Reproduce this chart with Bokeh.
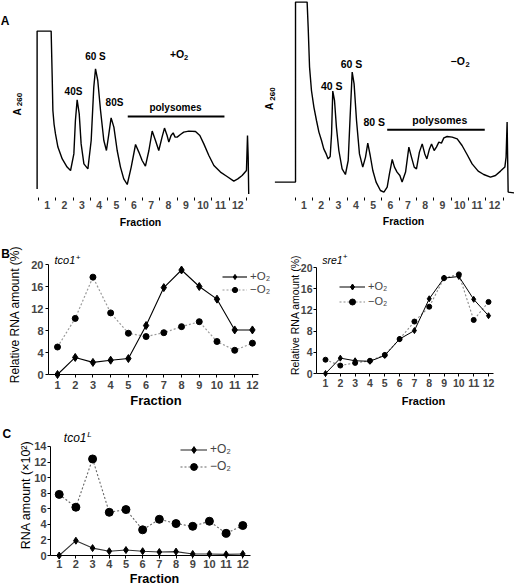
import math
from bokeh.plotting import figure
from bokeh.models import Label, Legend, LegendItem, FixedTicker
from bokeh.layouts import column, row
from bokeh.embed import file_html
from bokeh.resources import INLINE

# ---------------- data ----------------
fractions = list(range(1, 13))
fraction_bounds = [f - 0.5 for f in fractions] + [12.5]

# A: polysome profiles (fraction position, A260 arbitrary units)
profile_pos_plus = [0.42, 0.42, 1.23, 1.29, 1.33, 1.40, 1.48, 1.62, 1.87, 2.15,
                    2.35, 2.54, 2.63, 2.73, 2.85, 2.96, 3.12, 3.35, 3.54, 3.69,
                    3.79, 3.92, 4.08, 4.27, 4.42, 4.56, 4.69, 4.85, 5.04, 5.23,
                    5.42, 5.62, 5.85, 6.10, 6.29, 6.48, 6.67, 6.87, 7.06, 7.25,
                    7.44, 7.63, 7.77, 7.92, 8.02, 8.15, 8.27, 8.38, 8.50, 8.69,
                    8.88, 9.17, 9.56, 9.81, 10.04, 10.33, 10.62, 11.00, 11.38, 11.77,
                    12.00, 12.25, 12.50, 12.56, 12.60, 12.63]
profile_a260_plus = [5.8, 84.7, 84.7, 62.0, 45.0, 38.0, 33.3, 26.7, 20.8, 16.7,
                     15.0, 23.3, 40.0, 50.3, 43.3, 28.3, 18.3, 15.8, 30.0, 56.7,
                     65.8, 60.0, 45.0, 30.0, 25.0, 33.3, 41.3, 36.7, 25.0, 16.7,
                     10.8, 8.0, 16.7, 28.0, 24.2, 20.0, 17.2, 25.0, 34.7, 30.0,
                     25.0, 31.7, 36.2, 32.5, 29.2, 32.5, 33.8, 31.7, 31.7, 33.0,
                     34.2, 34.7, 34.5, 32.5, 28.3, 22.5, 17.5, 14.2, 12.0, 9.7,
                     10.8, 12.5, 15.0, 32.5, 21.7, 3.3]
profile_pos_minus = [-0.67, 0.52, 0.52, 1.19, 1.25, 1.33, 1.44, 1.58, 1.73, 1.87,
                     2.02, 2.15, 2.29, 2.40, 2.52, 2.60, 2.67, 2.77, 2.88, 3.02,
                     3.21, 3.40, 3.56, 3.67, 3.79, 3.90, 4.04, 4.21, 4.40, 4.56,
                     4.69, 4.83, 4.98, 5.17, 5.42, 5.62, 5.81, 5.94, 6.10, 6.23,
                     6.38, 6.54, 6.67, 6.87, 7.06, 7.21, 7.37, 7.50, 7.67, 7.83,
                     7.98, 8.10, 8.25, 8.37, 8.52, 8.65, 8.79, 8.94, 9.08, 9.27,
                     9.56, 9.85, 10.13, 10.42, 10.71, 11.06, 11.38, 11.77, 12.06, 12.35,
                     12.60, 12.67, 12.73, 12.79, 13.21]
profile_a260_minus = [9.2, 9.2, 99.2, 99.2, 86.7, 66.7, 55.0, 46.7, 40.0, 34.2,
                      30.0, 25.8, 23.3, 20.8, 22.0, 33.3, 54.7, 50.0, 36.7, 25.0,
                      15.8, 13.0, 20.0, 41.7, 64.2, 58.3, 40.0, 23.3, 16.7, 21.7,
                      28.7, 22.5, 15.0, 9.2, 5.0, 4.2, 6.7, 13.3, 20.5, 16.7,
                      14.2, 12.5, 9.2, 14.2, 26.7, 21.7, 16.7, 15.8, 24.2, 28.3,
                      23.3, 20.8, 25.8, 28.3, 25.0, 26.7, 29.2, 28.7, 31.3, 32.0,
                      31.7, 30.8, 27.5, 23.0, 18.3, 14.7, 13.0, 11.7, 12.5, 14.7,
                      16.7, 21.7, 39.2, 4.2, 3.7]
polysome_span_plus = [5.65, 11.23]
polysome_span_minus = [5.81, 11.44]

# B: relative RNA amount (%)
tco1_plus = [0.0, 3.1, 2.2, 2.6, 2.9, 8.9, 15.8, 19.0, 16.0, 13.7, 8.1, 8.1]
tco1_minus = [5.0, 10.2, 17.7, 11.2, 7.5, 6.9, 7.6, 8.7, 9.6, 6.0, 4.4, 5.7]
sre1_plus = [0.0, 2.9, 2.4, 2.3, 3.4, 6.5, 8.1, 14.1, 18.0, 18.3, 14.0, 10.9]
sre1_minus = [2.6, 1.5, 2.0, 2.4, 3.5, 6.5, 9.8, 12.6, 18.0, 18.7, 10.1, 13.5]
relative_ticks = [0, 4, 8, 12, 16, 20]

# C: RNA amount (x10^2)
tco1L_plus = [0.0, 1.9, 0.95, 0.55, 0.7, 0.55, 0.45, 0.5, 0.2, 0.2, 0.15, 0.2]
tco1L_minus = [7.85, 6.2, 12.4, 5.55, 5.9, 3.3, 4.65, 4.1, 3.75, 4.4, 2.85, 3.85]
amount_ticks = [0, 2, 4, 6, 8, 10, 12, 14]

# ---------------- helpers ----------------
FONT = "Liberation Sans"


class Panel:
    """A figure whose frame fills the whole canvas; (px, py) are page pixels."""

    def __init__(self, left, top, width, height, xpx, xval, xs, ypy, yval, ys, yaxis=True):
        self.left, self.top, self.w, self.h = left, top, width, height
        self.xpx, self.xval, self.xs = xpx, xval, xs
        self.ypy, self.yval, self.ys = ypy, yval, ys
        p = figure(width=width, height=height,
                   x_range=(self.X(left), self.X(left + width)),
                   y_range=(self.Y(top + height), self.Y(top)),
                   output_backend="svg", toolbar_location=None,
                   min_border_left=0, min_border_right=0,
                   min_border_top=0, min_border_bottom=0,
                   x_axis_location="below",
                   y_axis_location="left" if yaxis else None)
        p.outline_line_color = None
        p.xgrid.visible = False
        p.ygrid.visible = False
        p.background_fill_color = "white"
        p.border_fill_color = "white"
        self.p = p

    def X(self, px):
        return self.xval + (px - self.xpx) / self.xs

    def Y(self, py):
        return self.yval + (self.ypy - py) / self.ys

    def text(self, px, py, text, size, style="normal", align="center", angle=0.0):
        self.p.add_layout(Label(x=self.X(px), y=self.Y(py), text=text, text_font=FONT,
                                text_font_size=f"{size}px", text_font_style=style,
                                text_align=align, text_baseline="middle",
                                angle=angle, text_color="black"))

    def legend(self, r_plus, r_minus, glyph_left, first_center, lh, gw, fsize):
        bottom = first_center - lh / 2 + 2 * lh
        leg = Legend(items=[LegendItem(label="+O₂", renderers=r_plus),
                            LegendItem(label="−O₂", renderers=r_minus)],
                     location=(glyph_left - self.left, self.top + self.h - bottom),
                     orientation="vertical")
        leg.border_line_color = None
        leg.background_fill_alpha = 0
        leg.padding = 0
        leg.margin = 0
        leg.spacing = 0
        leg.glyph_width = gw
        leg.glyph_height = lh
        leg.label_height = lh
        leg.label_standoff = 3
        leg.label_text_font = FONT
        leg.label_text_font_size = f"{fsize}px"
        self.p.add_layout(leg)


def profile_axis(P):
    ax = P.p.xaxis[0]
    ax.fixed_location = 0
    ax.ticker = FixedTicker(ticks=fractions, minor_ticks=fraction_bounds)
    ax.axis_line_color = None
    ax.major_tick_line_color = None
    ax.major_tick_in = 0
    ax.major_tick_out = 0
    ax.minor_tick_line_color = "black"
    ax.minor_tick_line_width = 1
    ax.minor_tick_in = 3
    ax.minor_tick_out = 0
    ax.major_label_standoff = 0
    ax.major_label_text_font = FONT
    ax.major_label_text_font_size = "10.5px"
    ax.major_label_text_font_style = "bold"


def line_axes(P, axis_px, end_px, yticks, ytop, tick_size, xstand, ystand):
    p = P.p
    xa, ya = p.xaxis[0], p.yaxis[0]
    xa.fixed_location = 0
    ya.fixed_location = P.X(axis_px)
    xa.bounds = (P.X(axis_px), P.X(end_px))
    ya.bounds = (0, ytop)
    xa.ticker = fractions
    ya.ticker = yticks
    for ax in (xa, ya):
        ax.axis_line_color = "black"
        ax.axis_line_width = 1
        ax.major_tick_line_color = "black"
        ax.major_tick_in = 0
        ax.major_tick_out = 3
        ax.minor_tick_line_color = None
        ax.major_label_text_font = FONT
        ax.major_label_text_font_size = f"{tick_size}px"
        ax.major_label_text_font_style = "bold"
    xa.major_label_standoff = xstand
    ya.major_label_standoff = ystand


# ---------------- Panel A ----------------
A1 = Panel(0, 0, 260, 230, 38, 0.5, 17.33, 200, 0, 2, yaxis=False)
profile_axis(A1)
A1.p.line(profile_pos_plus, profile_a260_plus, line_color="black", line_width=1.4)
A1.p.line(polysome_span_plus, [A1.Y(116)] * 2, line_color="black", line_width=2)
A1.text(4.5, 20, "A", 12, "bold")
A1.text(16.7, 111.5, "A", 10, "bold", angle=math.pi / 2)
A1.text(19.2, 99.0, "260", 8, "bold", angle=math.pi / 2)
A1.text(176.6, 53, "+O", 10.5, "bold")
A1.text(185.6, 56.5, "2", 7.5, "bold")
A1.text(73, 91, "40S", 10, "bold")
A1.text(95, 56, "60 S", 10, "bold")
A1.text(114, 102, "80S", 10, "bold")
A1.text(175, 107, "polysomes", 10, "bold")
A1.text(140, 221, "Fraction", 10.5, "bold")

A2 = Panel(260, 0, 254, 230, 294.67, 0.5, 17.33, 200, 0, 2, yaxis=False)
profile_axis(A2)
A2.p.line(profile_pos_minus, profile_a260_minus, line_color="black", line_width=1.4)
A2.p.line(polysome_span_minus, [A2.Y(129.3)] * 2, line_color="black", line_width=2)
A2.text(269.3, 106, "A", 10, "bold", angle=math.pi / 2)
A2.text(272.0, 93.5, "260", 8, "bold", angle=math.pi / 2)
A2.text(457.2, 60, "−O", 10.5, "bold")
A2.text(467.0, 63.5, "2", 7.5, "bold")
A2.text(331.3, 85, "40 S", 10.5, "bold")
A2.text(351, 63.3, "60 S", 10.5, "bold")
A2.text(373.8, 121.7, "80 S", 10.5, "bold")
A2.text(439.3, 119.3, "polysomes", 10.5, "bold")
A2.text(403, 220.7, "Fraction", 10.5, "bold")

# ---------------- Panel B ----------------
B1 = Panel(0, 230, 275, 178, 57, 1, 17.72, 374, 0, 5.5)
line_axes(B1, 48, 258, relative_ticks, 20, 11, 3, 2)
lm = B1.p.line(fractions, tco1_minus, line_color="#9a9a9a", line_dash="2 2", line_width=1.2)
sm = B1.p.scatter(fractions, tco1_minus, marker="circle", size=6, color="black")
lp = B1.p.line(fractions, tco1_plus, line_color="black", line_width=1.1)
sp = B1.p.scatter(fractions, tco1_plus, marker="diamond", size=8, color="black")
B1.legend([lp, sp], [lm, sm], 222, 276, 13, 25, 11.5)
B1.text(5, 253, "B", 12, "bold")
B1.text(54, 259.5, "tco1", 11, "italic", "left")
B1.text(77.5, 256.5, "+", 8, "italic")
B1.text(14, 314, "Relative RNA amount (%)", 12, angle=math.pi / 2)
B1.text(155.5, 400, "Fraction", 13, "bold")

B2 = Panel(275, 230, 239, 178, 325, 1, 14.82, 373, 0, 5.3)
line_axes(B2, 316, 493, relative_ticks, 20, 10.5, 2, 1)
lm2 = B2.p.line(fractions, sre1_minus, line_color="#8a8a8a", line_dash="2 2", line_width=1.1)
sm2 = B2.p.scatter(fractions, sre1_minus, marker="circle", size=5, color="black")
lp2 = B2.p.line(fractions, sre1_plus, line_color="black", line_width=1.0)
sp2 = B2.p.scatter(fractions, sre1_plus, marker="diamond", size=6, color="black")
B2.legend([lp2, sp2], [lm2, sm2], 339, 286, 15, 26, 11)
B2.text(321.7, 259, "sre1", 10.5, "italic", "left")
B2.text(344.5, 256, "+", 8, "italic")
B2.text(294, 314.5, "Relative RNA amount (%)", 10.5, angle=math.pi / 2)
B2.text(423, 400, "Fraction", 11, "bold")

# ---------------- Panel C ----------------
C1 = Panel(0, 408, 260, 178, 58.7, 1, 16.69, 555, 0, 7.786)
line_axes(C1, 50, 250, amount_ticks, 14, 11, 1, 1)
lm3 = C1.p.line(fractions, tco1L_minus, line_color="#666666", line_dash="2 2", line_width=1.1)
sm3 = C1.p.scatter(fractions, tco1L_minus, marker="circle", size=8, color="black")
lp3 = C1.p.line(fractions, tco1L_plus, line_color="#333333", line_width=1.1)
sp3 = C1.p.scatter(fractions, tco1L_plus, marker="diamond", size=7, color="black")
C1.legend([lp3, sp3], [lm3, sm3], 180, 449, 17, 27, 12)
C1.text(6.3, 433, "C", 12, "bold")
C1.text(63.3, 437.5, "tco1", 12, "italic", "left")
C1.text(89.0, 434, "L", 8, "italic")
C1.text(25, 494.5, "RNA amount (×10²)", 12.5, angle=math.pi / 2)
C1.text(154, 578.5, "Fraction", 12.5, "bold")

layout = column(row(A1.p, A2.p), row(B1.p, B2.p), C1.p)
open("out.html", "w").write(file_html(layout, INLINE))
